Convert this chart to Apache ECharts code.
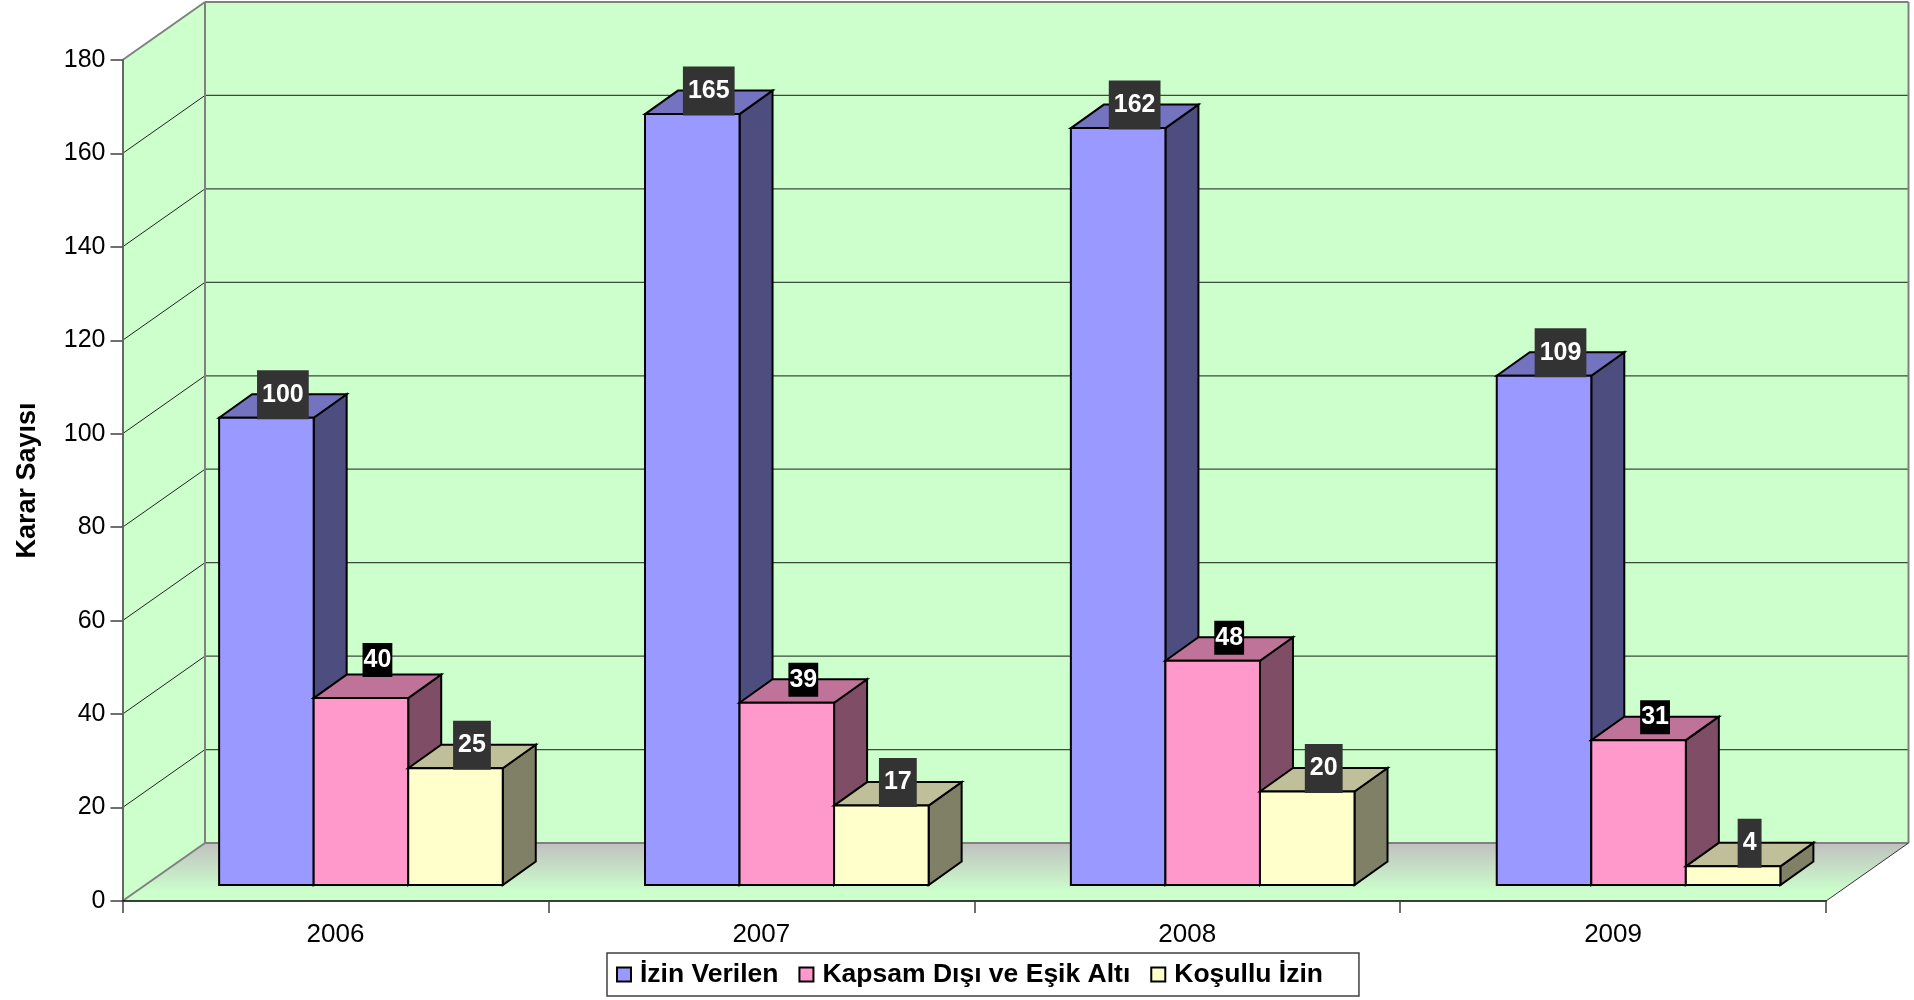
<!DOCTYPE html>
<html><head><meta charset="utf-8">
<style>html,body{margin:0;padding:0;background:#fff}#c{width:1914px;height:1000px}</style>
<script src="https://cdn.jsdelivr.net/npm/echarts@6/dist/echarts.min.js"></script>
</head><body><div id="c"></div>
<script>
const categories = ['2006','2007','2008','2009'];
const izinVerilen = [100,165,162,109];
const kapsamDisi = [40,39,48,31];
const kosulluIzin = [25,17,20,4];
const yTicks = [0,20,40,60,80,100,120,140,160,180];
const seriesNames = ['İzin Verilen','Kapsam Dışı ve Eşik Altı','Koşullu İzin'];
const seriesValues = [izinVerilen,kapsamDisi,kosulluIzin];
const faces = [
  {front:'#9999FF',top:'#7373BF',side:'#4D4D80',labelBg:'#333333'},
  {front:'#FF99CC',top:'#BF7399',side:'#804D66',labelBg:'#000000'},
  {front:'#FFFFCC',top:'#BFBF99',side:'#808066',labelBg:'#333333'}
];
const FONT='"Liberation Sans", Arial, sans-serif';
// projection of the 3D scene
const WALL_DX=82.5, WALL_DY=58, BAR_DX=33, BAR_DY=23.5, BASE_DX=25.5, BASE_DY=16, BAR_RATIO=0.222;
const LABEL_RISE=23, LABEL_RISE_RAISED=38; // the 2006 pink label sits higher than the others

function poly(points,fill,stroke,lw){
  return {type:'polygon',shape:{points},style:{fill:fill||'none',stroke:stroke||'none',lineWidth:lw||0,lineJoin:'miter'}};
}
function line(x1,y1,x2,y2,stroke,lw){
  return {type:'line',shape:{x1,y1,x2,y2},style:{stroke,lineWidth:lw}};
}
function renderWalls(params,api){
  const g=params.coordSys, L=g.x, R=g.x+g.width, T=g.y, B=g.y+g.height;
  const dx=WALL_DX, dy=WALL_DY, kids=[];
  kids.push(poly([[L+dx,T-dy],[R+dx,T-dy],[R+dx,B-dy],[L+dx,B-dy]],'#CCFFCC'));
  kids.push(poly([[L,T],[L+dx,T-dy],[L+dx,B-dy],[L,B]],'#CCFFCC'));
  kids.push({type:'polygon',shape:{points:[[L,B],[L+dx,B-dy],[R+dx,B-dy],[R,B]]},style:{
    fill:{type:'linear',x:0,y:0,x2:0,y2:1,colorStops:[{offset:0,color:'#C0C0C0'},{offset:0.85,color:'#CCFFCC'},{offset:1,color:'#CCFFCC'}]}}});
  yTicks.forEach(v=>{
    if(v===0||v===180) return;
    const y=api.coord([0,v])[1];
    kids.push(line(L,y,L+dx,y-dy,'#222222',1));
    kids.push(line(L+dx,y-dy,R+dx,y-dy,'#3c4a3c',1.2));
  });
  const gray='#808080';
  kids.push(line(L,T,L+dx,T-dy,gray,2));
  kids.push(line(L+dx,T-dy,R+dx,T-dy,gray,2));
  kids.push(line(L+dx,T-dy,L+dx,B-dy,gray,2));
  kids.push(line(R+dx,T-dy,R+dx,B-dy,gray,2));
  kids.push(line(L+dx,B-dy,R+dx,B-dy,gray,2));
  kids.push(line(L,B,L+dx,B-dy,gray,2));
  kids.push(line(R,B,R+dx,B-dy,'#333333',1));
  return {type:'group',children:kids};
}
function barRect(api,s){
  const p=api.coord([api.value(0),api.value(1)]);
  const base=api.coord([api.value(0),0]);
  const cw=api.size([1,0])[0], w=cw*BAR_RATIO;
  const x=p[0]+BASE_DX+(s-1.5)*w;
  return {x,w,top:p[1]-BASE_DY,bot:base[1]-BASE_DY};
}
function renderBar(s){
  return function(params,api){
    const r=barRect(api,s), f=faces[s], dx=BAR_DX, dy=BAR_DY, lw=2, k='#000';
    return {type:'group',children:[
      poly([[r.x+r.w,r.top],[r.x+r.w+dx,r.top-dy],[r.x+r.w+dx,r.bot-dy],[r.x+r.w,r.bot]],f.side,k,lw),
      poly([[r.x,r.top],[r.x+dx,r.top-dy],[r.x+r.w+dx,r.top-dy],[r.x+r.w,r.top]],f.top,k,lw),
      poly([[r.x,r.top],[r.x+r.w,r.top],[r.x+r.w,r.bot],[r.x,r.bot]],f.front,k,lw)
    ]};
  };
}
function renderLabel(params,api){
  const s=api.value(2), r=barRect(api,s), dark=s!==1;
  const rise=(s===1&&api.value(0)===0)?LABEL_RISE_RAISED:LABEL_RISE;
  return {type:'text',style:{
    text:String(api.value(1)),x:r.x+r.w/2+BAR_DX/2,y:r.top-rise,
    fill:'#fff',font:'bold 25px '+FONT,lineHeight:25,align:'center',verticalAlign:'middle',
    backgroundColor:faces[s].labelBg,padding:dark?[12,5]:[4.5,1]
  }};
}
const series=[{type:'custom',name:'walls',z:1,silent:true,data:[[0,0]],encode:{x:0,y:1},renderItem:renderWalls}];
seriesNames.forEach((name,s)=>{
  series.push({type:'custom',name,z:4,itemStyle:{color:faces[s].front},
    data:seriesValues[s].map((v,i)=>[i,v]),encode:{x:0,y:1},renderItem:renderBar(s)});
});
const labelRows=[];
seriesValues.forEach((vals,s)=>vals.forEach((v,i)=>labelRows.push([i,v,s])));
series.push({type:'custom',name:'labels',z:6,silent:true,data:labelRows,encode:{x:0,y:1},renderItem:renderLabel});

const chart=echarts.init(document.getElementById('c'),null,{renderer:'canvas'});
chart.setOption({
  animation:false,backgroundColor:'#fff',
  grid:{left:122.5,right:88,top:60,bottom:99,containLabel:false,outerBoundsMode:'none'},
  legend:{show:true,left:607,top:953,orient:'horizontal',padding:[8,36,8,9],
    backgroundColor:'#fff',borderColor:'#404040',borderWidth:1.5,itemWidth:14,itemHeight:14,itemGap:20,
    textStyle:{fontFamily:FONT,fontWeight:'bold',fontSize:26.5,color:'#000',padding:[0,0,0,4]},
    selectedMode:false,
    data:seriesNames.map((name,s)=>({name,icon:'rect',itemStyle:{color:faces[s].front,borderColor:'#000',borderWidth:2}}))},
  xAxis:{type:'category',data:categories,z:5,
    axisLine:{lineStyle:{color:'#000',width:1.5}},
    axisTick:{show:true,length:12,lineStyle:{color:'#404040',width:1.5}},
    axisLabel:{fontFamily:FONT,fontSize:26,color:'#000',margin:21},splitLine:{show:false}},
  yAxis:{type:'value',min:0,max:180,interval:20,z:5,
    name:'Karar Sayısı',nameLocation:'middle',nameGap:81,nameRotate:90,
    nameTextStyle:{fontFamily:FONT,fontWeight:'bold',fontSize:27,color:'#000'},
    axisLine:{show:true,lineStyle:{color:'#666666',width:2}},
    axisTick:{show:true,length:12,lineStyle:{color:'#404040',width:1.5}},
    axisLabel:{fontFamily:FONT,fontSize:25,color:'#000',margin:17},splitLine:{show:false}},
  series
});
</script></body></html>
